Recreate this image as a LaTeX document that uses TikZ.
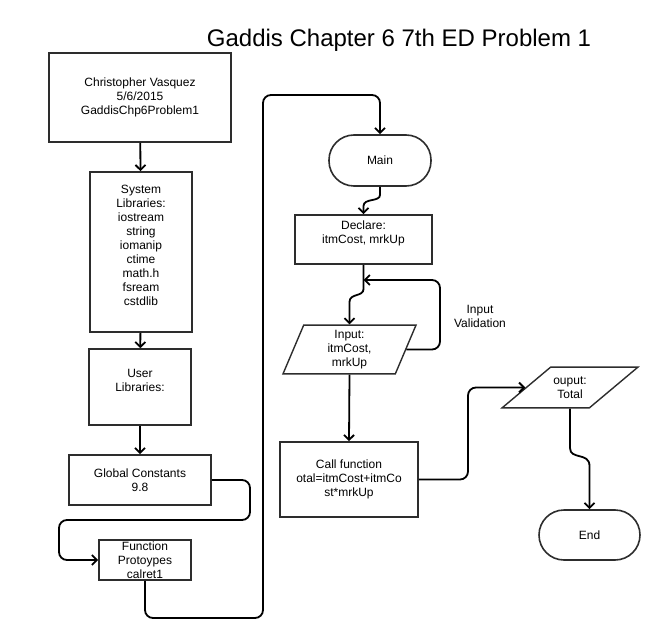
\documentclass[tikz,border=0pt]{standalone}
\usepackage{fontspec}
\setmainfont{Liberation Sans}
\usetikzlibrary{shapes.geometric,arrows.meta}
\definecolor{boxgray}{RGB}{45,45,45}
\tikzset{
  box/.style={draw=boxgray, line width=1.6pt, rectangle, align=center, inner sep=0pt},
  term/.style={box, rounded corners=25pt},
  io/.style={draw=boxgray, line width=1.4pt, trapezium, trapezium stretches body,
    align=center, inner xsep=0pt},
  link/.style={line width=1.8pt, -{Straight Barb[length=5pt,width=10pt]}}
}
\begin{document}
\begin{tikzpicture}[x=1pt, y=-1pt, font=\fontsize{12}{14}\selectfont]
        \useasboundingbox (0,0) rectangle (666,644);

        % Title
        \node[anchor=base, font=\fontsize{24}{28}\selectfont] (title) at (399,47) {Gaddis Chapter 6 7th ED Problem 1};

        % Left column
        \node[box, minimum width=182, minimum height=89] (author) at (140,97.5) {Christopher Vasquez\\5/6/2015\\GaddisChp6Problem1};
        \node[box, minimum width=102, minimum height=160] (syslib) at (141,252) {System\\Libraries:\\iostream\\string\\iomanip\\ctime\\math.h\\fsream\\cstdlib\\~};
        \node[box, minimum width=102, minimum height=76] (usrlib) at (140,387) {User\\Libraries:\\~};
        \node[box, minimum width=142, minimum height=50] (glob) at (140,480) {Global Constants\\9.8};
        \node[box, minimum width=92, minimum height=40] (proto) at (145,560) {Function\\Protoypes\\calret1};

        % Right column
        \node[term, minimum width=102, minimum height=51] (main) at (380,160.5) {Main};
        \node[box, minimum width=137, minimum height=49] (declare) at (363.5,239.5) {Declare:\\itmCost, mrkUp\\~};
        \node[io, trapezium left angle=67, trapezium right angle=113, inner ysep=5pt, minimum width=133] (input) at (349.5,349.5) {Input:\\itmCost,\\mrkUp};
        \node[box, minimum width=138, minimum height=75] (call) at (349,479.5) {Call function\\otal=itmCost+itmCo\\st*mrkUp};
        \node[io, trapezium left angle=40, trapezium right angle=140, inner ysep=9.5pt, minimum width=136] (output) at (570,387.5) {ouput:\\Total};
        \node[term, minimum width=101, minimum height=50] (end) at (589.5,535) {End};

        \node[align=center] (valid) at (480,316) {Input\\Validation};
        \coordinate (merge) at (363.5,280);

        % Connectors
        \draw[link] (author) -- (syslib);
        \draw[link] (syslib) -- (usrlib);
        \draw[link] (usrlib) -- (glob);
        \draw[link, rounded corners=8] (glob.east) -- (250,480) |- (59,520) |- (proto.west);
        \draw[link, rounded corners=8] (proto.south) |- (263,618) |- (380,95) -- (main.north);
        \draw[link] (main.south) -- (380,195) .. controls (380,202) and (363.5,198) .. (363.5,206) -- (declare.north);
        \draw[link] (declare.south) -- (363.5,289) .. controls (363.5,297) and (349.5,293) .. (349.5,302) -- (input.north);
        \draw[link, rounded corners=8] (input.east) -- (440,349.5) |- (merge);
        \draw[link] (input.south) -- (call.north);
        \draw[link, rounded corners=8] (call.east) -- (468,479.5) |- (output.west);
        \draw[link] (output.south) -- (570,448) .. controls (570,460) and (589.5,452) .. (589.5,466) -- (end.north);
    \end{tikzpicture}
\end{document}
